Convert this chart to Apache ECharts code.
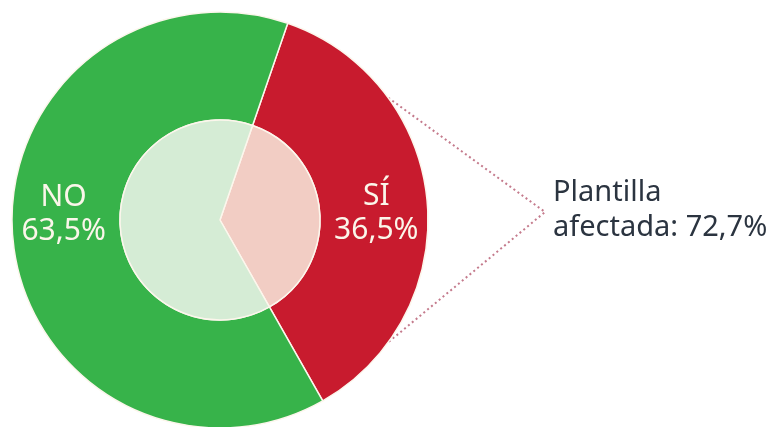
<!DOCTYPE html>
<html>
<head>
<meta charset="utf-8">
<script src="https://cdn.jsdelivr.net/npm/echarts@6/dist/echarts.min.js"></script>
<style>
  html, body { margin: 0; padding: 0; background: #fff; }
  #chart { width: 784px; height: 427px; }
</style>
</head>
<body>
<div id="chart"></div>
<script>
// datos
const categories = ['SÍ', 'NO']
const values = [36.5, 63.5]
const outerColors = ['#c81b2e', '#37b34a']
const innerColors = ['#f2cdc4', '#d5ecd5']
const calloutText = ['Plantilla', 'afectada: 72,7%']

const cx = 220, cy = 220, rOuter = 208, rInner = 100
const startAngle = 71
const font = '"Noto Sans", sans-serif'

const chart = echarts.init(document.getElementById('chart'))

const fmt = (v) => v.toFixed(1).replace('.', ',') + '%'

// puntos de la linea punteada sobre el borde del circulo
const tip = [545, 212]
const edge = (deg) => {
  const a = deg * Math.PI / 180
  return [cx + rOuter * Math.sin(a), cy - rOuter * Math.cos(a)]
}

chart.setOption({
  animation: false,
  series: [
    {
      type: 'pie',
      center: [cx, cy],
      radius: [rInner, rOuter],
      startAngle: startAngle,
      clockwise: true,
      silent: true,
      itemStyle: { borderColor: '#fcf6ec', borderWidth: 1.5 },
      label: {
        position: 'inside',
        color: '#fbf6ea',
        fontFamily: font,
        fontSize: 30,
        lineHeight: 34,
        formatter: (p) => p.name + '\n' + fmt(p.value)
      },
      labelLine: { show: false },
      data: categories.map((c, i) => ({
        name: c,
        value: values[i],
        itemStyle: { color: outerColors[i] },
        label: { offset: i === 0 ? [0, 8] : [0, -20] }
      }))
    },
    {
      type: 'pie',
      center: [cx, cy],
      radius: [0, rInner],
      startAngle: startAngle,
      clockwise: true,
      silent: true,
      itemStyle: { borderColor: '#fcf6ec', borderWidth: 1.5 },
      label: { show: false },
      labelLine: { show: false },
      data: categories.map((c, i) => ({
        name: c,
        value: values[i],
        itemStyle: { color: innerColors[i] }
      }))
    }
  ],
  graphic: [
    {
      type: 'polyline',
      shape: { points: [edge(54), tip, edge(126)] },
      style: { fill: null, stroke: '#c47a8c', lineWidth: 2, lineDash: [2, 3] }
    },
    {
      type: 'text',
      left: 553,
      top: 175,
      style: {
        text: calloutText.join('\n'),
        font: '29px ' + font,
        lineHeight: 35,
        fill: '#2b3440'
      }
    }
  ]
})
</script>
</body>
</html>
